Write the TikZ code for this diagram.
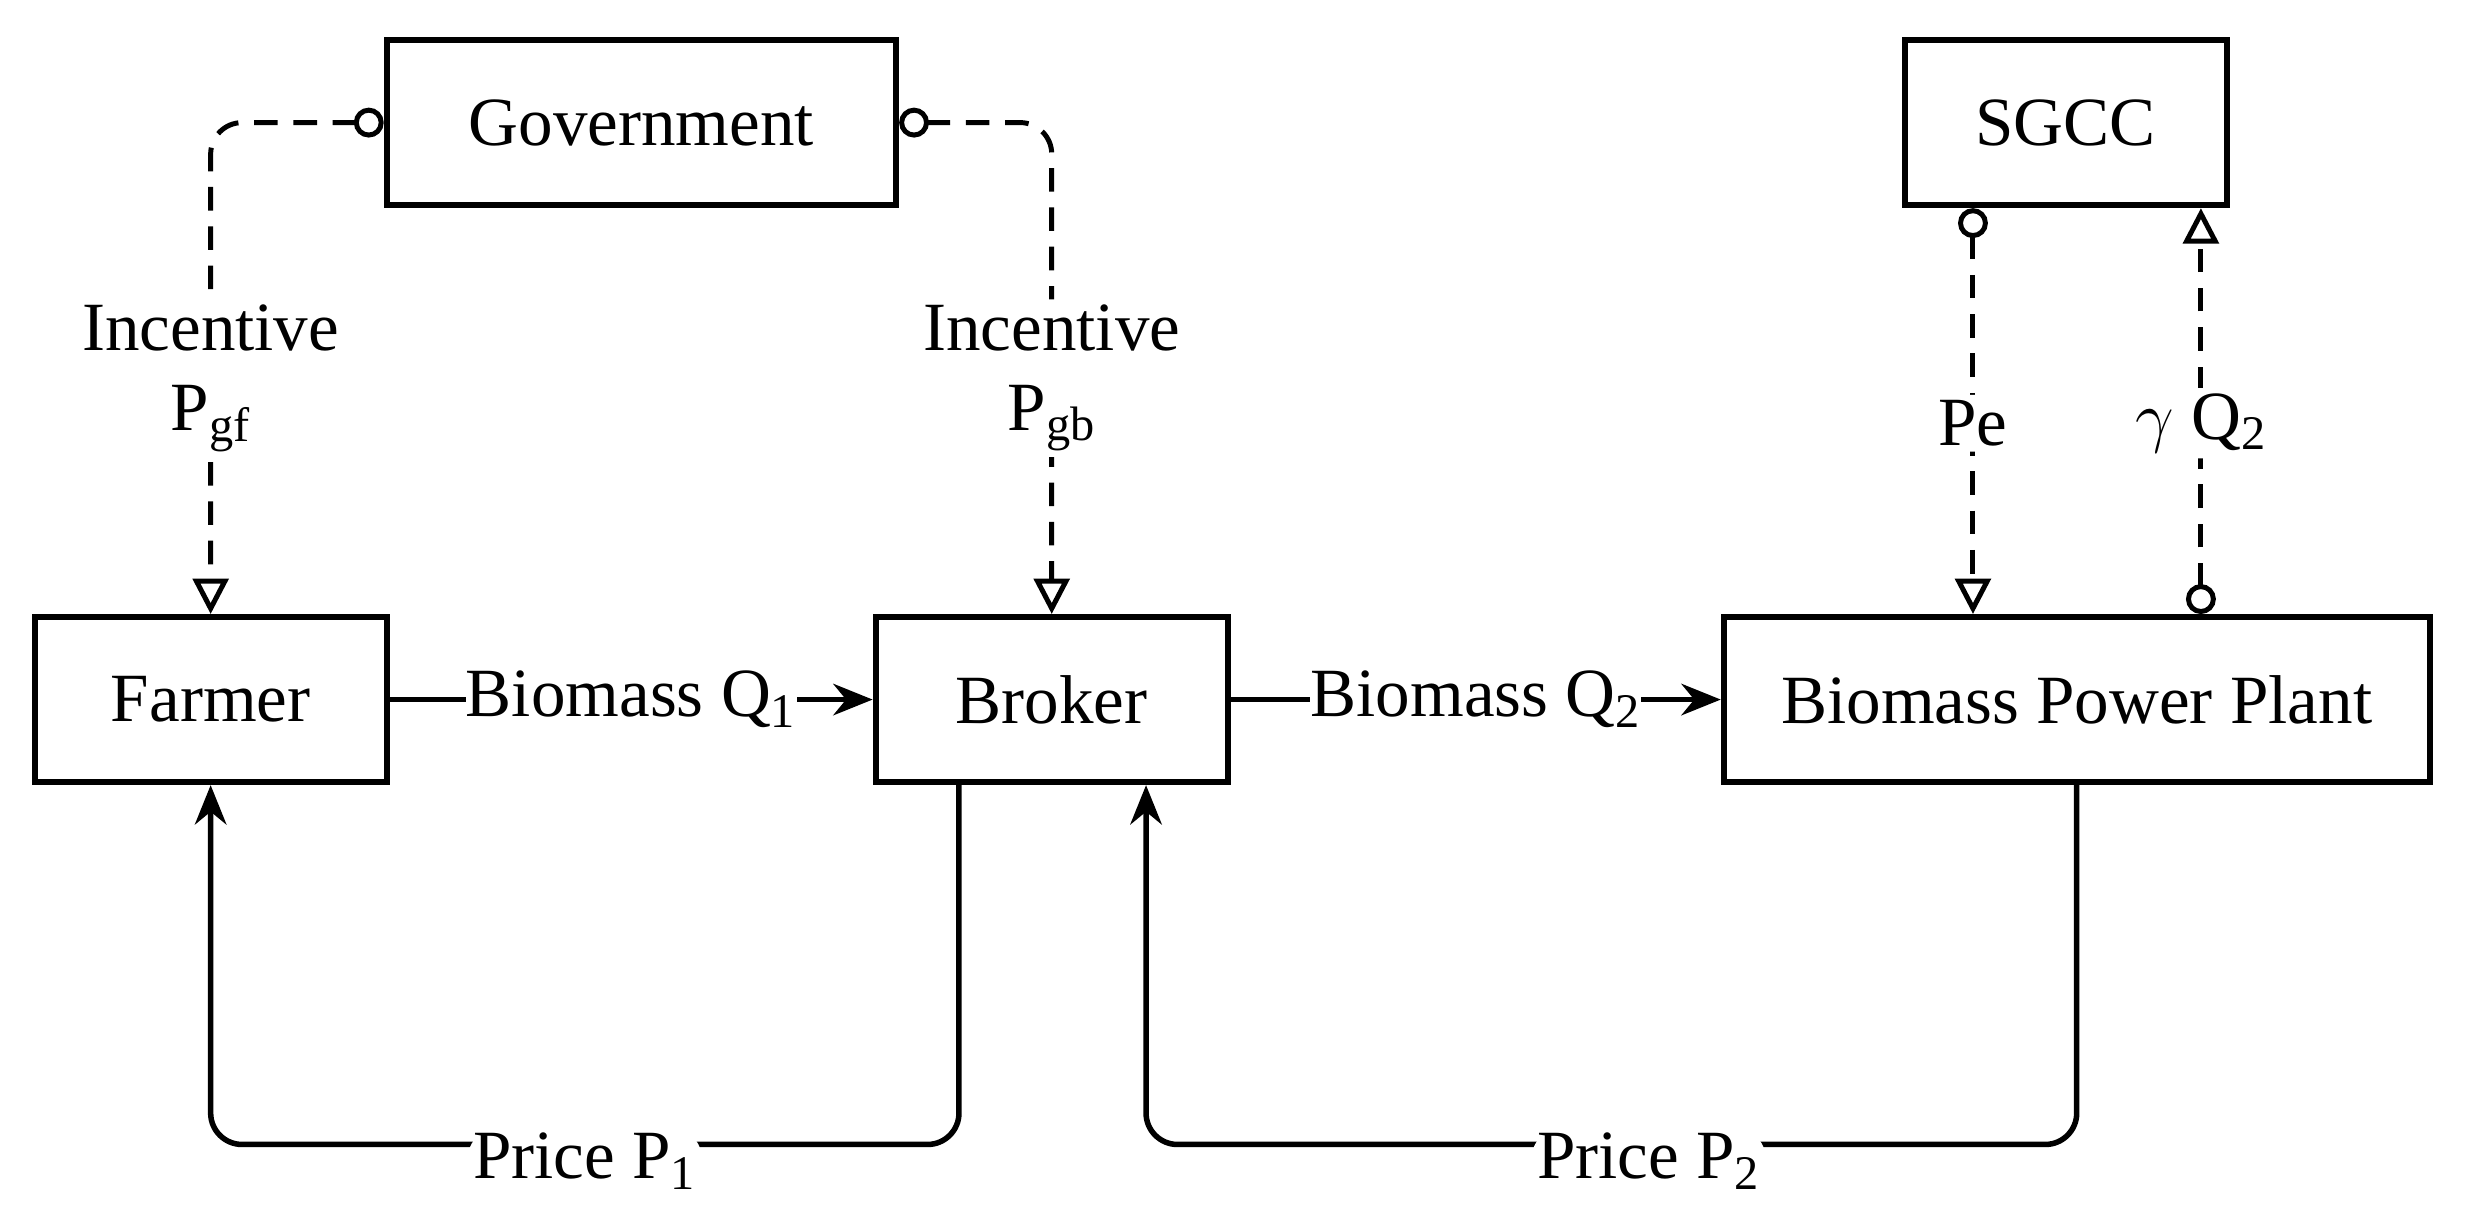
\documentclass[tikz,border=0pt]{standalone}
\usepackage{fontspec}
\setmainfont{Liberation Serif}
\usetikzlibrary{positioning,arrows.meta,calc}

\begin{document}
\begin{tikzpicture}[
	every node/.style={font=\fontsize{25}{29}\selectfont},
	box/.style={draw, line width=2.2pt, minimum height=2.1cm, inner sep=0pt},
	flow/.style={line width=2pt, -{Stealth[length=0.5cm, width=0.4cm]}},
	incent/.style={line width=1.8pt, dash pattern=on 0.3cm off 0.2cm, rounded corners=0.4cm,
		{Circle[open, length=0.38cm, width=0.38cm]}-{Triangle[open, length=0.45cm, width=0.45cm]}},
	lbl/.style={fill=white, inner sep=2pt, align=center}]

\useasboundingbox (0,0) rectangle (31.36,15.44);

\node[box, minimum width=6.48cm] (Gov) at (8.16, 13.88) {Government};
\node[box, minimum width=4.1cm] (SGCC) at (26.28, 13.88) {SGCC};
\node[box, minimum width=4.48cm] (Farmer) at (2.68, 6.54) {Farmer};
\node[box, minimum width=4.48cm] (Broker) at (13.38, 6.54) {Broker};
\node[box, minimum width=8.98cm] (Plant) at (26.42, 6.54) {Biomass Power Plant};

% incentives
\draw[incent] (Gov.west) -| node[lbl, pos=0.76] {Incentive\\P\textsubscript{gf}} (Farmer.north);
\draw[incent] (Gov.east) -| node[lbl, pos=0.76] {Incentive\\P\textsubscript{gb}} (Broker.north);

% electricity market
\coordinate (pe) at (25.1, 0);
\coordinate (gq) at (28.0, 0);
\draw[incent] (SGCC.south -| pe) -- node[lbl, pos=0.53] {Pe} (Plant.north -| pe);
\draw[incent] (Plant.north -| gq) -- node[lbl, pos=0.47] {$\gamma$ Q\textsubscript{2}} (SGCC.south -| gq);

% biomass flow
\draw[flow] (Farmer.east) -- node[lbl, inner sep=0pt] {Biomass Q\textsubscript{1}} (Broker.west);
\draw[flow] (Broker.east) -- node[lbl, inner sep=0pt] {Biomass Q\textsubscript{2}} (Plant.west);

% payments
\coordinate (b1) at (12.2, 0.88);
\coordinate (b2) at (14.58, 0.88);
\draw[flow, rounded corners=0.4cm] (Broker.south -| b1) |- node[lbl, pos=0.75, yshift=-6pt] {Price P\textsubscript{1}} (Farmer.south |- b1) -- (Farmer.south);
\draw[flow, rounded corners=0.4cm] (Plant.south) |- node[lbl, pos=0.73, yshift=-6pt] {Price P\textsubscript{2}} (b2) -- (Broker.south -| b2);

\end{tikzpicture}
\end{document}
